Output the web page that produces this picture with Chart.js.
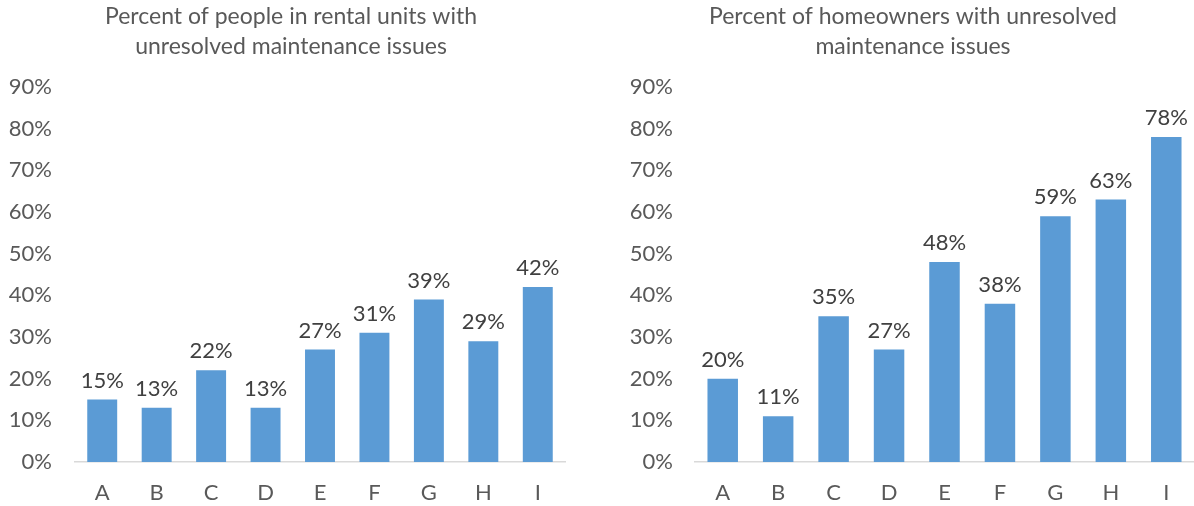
<!DOCTYPE html>
<html><head><meta charset="utf-8">
<script src="https://cdn.jsdelivr.net/npm/chart.js@4/dist/chart.umd.min.js"></script>
<style>
html,body{margin:0;padding:0;background:#fff;width:1194px;height:506px;overflow:hidden;}
.box{position:absolute;top:0;height:506px;}
#b1{left:0;width:590px;}
#b2{left:630px;width:564px;}
</style></head><body>
<div class="box" id="b1"><canvas id="c1"></canvas></div>
<div class="box" id="b2"><canvas id="c2"></canvas></div>
<script>
const categories = ['A','B','C','D','E','F','G','H','I'];
const rentalValues = [15, 13, 22, 13, 27, 31, 39, 29, 42];
const homeownerValues = [20, 11, 35, 27, 48, 38, 59, 63, 78];
const yTicks = [0,10,20,30,40,50,60,70,80,90];
const titleRental = ['Percent of people in rental units with','unresolved maintenance issues'];
const titleHome = ['Percent of homeowners with unresolved','maintenance issues'];

const FONT = 'Lato, "Open Sans", sans-serif';
const labelPlugin = {
  id:'vlabels',
  afterDatasetsDraw(chart){
    const ctx = chart.ctx;
    const meta = chart.getDatasetMeta(0);
    ctx.save();
    ctx.font = '22px ' + FONT;
    ctx.fillStyle = '#404040';
    ctx.textAlign = 'center';
    ctx.textBaseline = 'alphabetic';
    meta.data.forEach((bar,i)=>{
      ctx.fillText(chart.data.datasets[0].data[i] + '%', bar.x, bar.y - 12);
    });
    ctx.restore();
  }
};
const titlePlugin = {
  id:'ctitle',
  afterDraw(chart, args, opts){
    const ctx = chart.ctx;
    ctx.save();
    ctx.font = '23px ' + FONT;
    ctx.fillStyle = '#595959';
    ctx.textAlign = 'center';
    ctx.textBaseline = 'middle';
    opts.lines.forEach((t,i)=>ctx.fillText(t, opts.cx, 17 + i*30));
    ctx.restore();
  }
};

function make(id, values, title, cx, yWidth, padRight, yPad){
  return new Chart(document.getElementById(id), {
    type:'bar',
    data:{labels:categories, datasets:[{data:values, backgroundColor:'#5b9bd5', borderWidth:0,
      barPercentage:0.55, categoryPercentage:1.0}]},
    options:{
      responsive:true, maintainAspectRatio:false, animation:false,
      layout:{padding:{left:0,right:padRight,top:87,bottom:0}},
      plugins:{
        legend:{display:false}, tooltip:{enabled:false}, title:{display:false},
        ctitle:{lines:title, cx:cx}
      },
      scales:{
        x:{grid:{display:false, drawTicks:false},
           afterFit(s){s.height = 44;},
           border:{display:true, color:'#d9d9d9', width:1.5},
           ticks:{color:'#595959', font:{family:FONT, size:22}, padding:18}},
        y:{min:0, max:90, afterFit(s){s.width = yWidth;},
           afterBuildTicks(s){s.ticks = yTicks.map(v=>({value:v}));},
           grid:{display:false, drawTicks:false}, border:{display:false},
           ticks:{color:'#595959', font:{family:FONT, size:22}, padding:yPad,
             callback:v=>v+'%'}}
      }
    },
    plugins:[labelPlugin, titlePlugin]
  });
}
make('c1', rentalValues, titleRental, 291, 75, 25, 23);
make('c2', homeownerValues, titleHome, 283, 65, 0, 22);
</script>
</body></html>
